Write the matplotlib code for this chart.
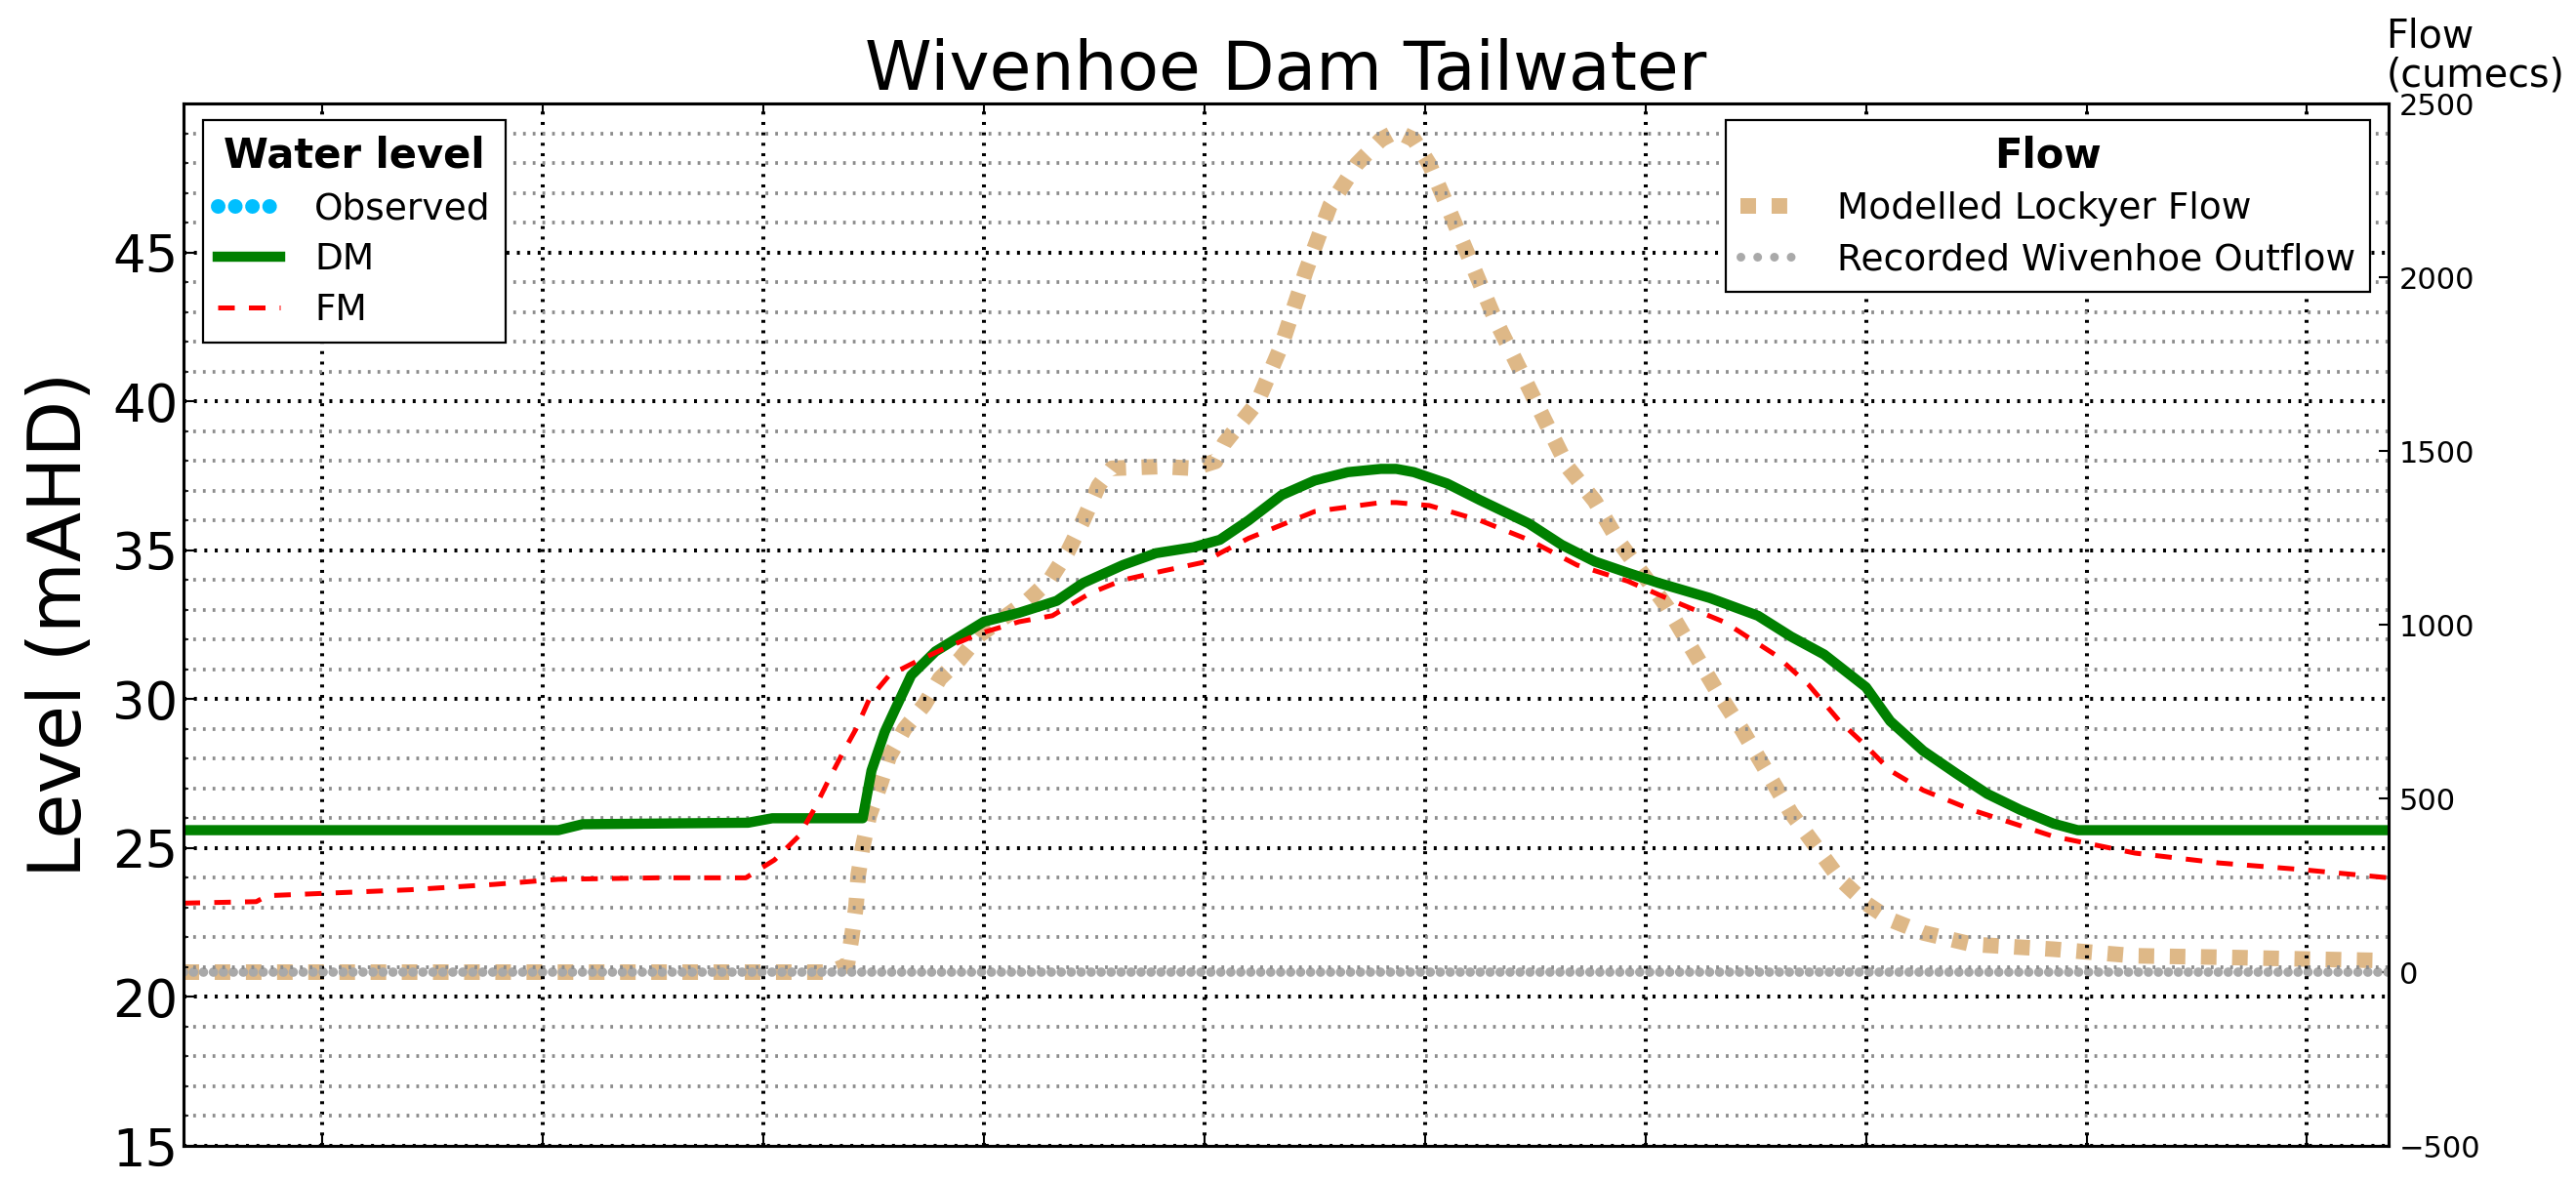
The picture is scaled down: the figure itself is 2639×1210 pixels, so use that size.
import matplotlib
matplotlib.use('Agg')
import matplotlib.pyplot as plt
from matplotlib.lines import Line2D
from matplotlib.ticker import MultipleLocator

# ---------------- data (x in days relative to first major tick) ----------------
x_range = [-0.63, 9.37]
day_ticks = [0, 1, 2, 3, 4, 5, 6, 7, 8, 9]

days_obs = []
level_obs = []

days_dm = [-0.63, 1.07, 1.18, 1.93, 2.04, 2.43, 2.45, 2.49, 2.55, 2.60, 2.67, 2.78,
           2.89, 3.00, 3.16, 3.33, 3.45, 3.63, 3.78, 3.95, 4.07, 4.20, 4.35, 4.50,
           4.65, 4.80, 4.87, 4.95, 5.10, 5.25, 5.47, 5.62, 5.77, 5.92, 6.06, 6.29,
           6.51, 6.66, 6.81, 7.00, 7.11, 7.26, 7.41, 7.55, 7.70, 7.85, 7.96, 9.37]
level_dm = [25.6, 25.6, 25.8, 25.85, 26.0, 26.0, 26.0, 27.6, 28.9, 29.7, 30.8, 31.6,
            32.1, 32.6, 32.9, 33.3, 33.9, 34.5, 34.9, 35.1, 35.35, 36.0, 36.85, 37.34,
            37.62, 37.73, 37.73, 37.62, 37.24, 36.68, 35.9, 35.18, 34.62, 34.24, 33.9, 33.4,
            32.8, 32.1, 31.5, 30.4, 29.26, 28.26, 27.5, 26.82, 26.28, 25.82, 25.6, 25.6]

days_fm = [-0.63, -0.30, -0.25, 0.40, 0.78, 1.07, 1.52, 1.82, 1.92, 2.05, 2.16, 2.23,
           2.29, 2.36, 2.42, 2.48, 2.57, 2.69, 2.82, 2.98, 3.16, 3.31, 3.48, 3.63,
           3.81, 4.00, 4.07, 4.20, 4.50, 4.80, 4.87, 5.02, 5.25, 5.47, 5.69, 5.92,
           6.14, 6.36, 6.59, 6.74, 6.88, 7.00, 7.11, 7.26, 7.48, 7.85, 8.22, 8.60,
           8.97, 9.37]
level_fm = [23.15, 23.2, 23.4, 23.6, 23.78, 23.95, 24.0, 24.0, 24.0, 24.6, 25.4, 26.3,
            27.2, 28.2, 29.0, 30.0, 30.8, 31.25, 31.7, 32.2, 32.6, 32.8, 33.55, 34.0,
            34.3, 34.6, 34.9, 35.4, 36.3, 36.6, 36.6, 36.5, 36.0, 35.35, 34.5, 33.96,
            33.25, 32.58, 31.48, 30.48, 29.26, 28.43, 27.6, 26.94, 26.28, 25.39, 24.83, 24.5,
            24.28, 24.0]

days_lockyer = [-0.63, 2.30, 2.38, 2.40, 2.42, 2.43, 2.45, 2.48, 2.53, 2.57, 2.64, 2.73,
                2.80, 2.89, 2.98, 3.20, 3.30, 3.38, 3.45, 3.52, 3.58, 3.80, 3.95, 4.05,
                4.09, 4.24, 4.35, 4.46, 4.57, 4.69, 4.80, 4.87, 4.95, 5.02, 5.10, 5.21,
                5.32, 5.43, 5.54, 5.65, 5.77, 5.88, 5.99, 6.10, 6.21, 6.32, 6.44, 6.55,
                6.66, 6.77, 6.88, 7.00, 7.11, 7.26, 7.48, 7.85, 8.22, 8.60, 8.97, 9.37]
flow_lockyer = [0, 0, 20, 100, 190, 280, 360, 450, 540, 620, 700, 770,
                845, 900, 970, 1070, 1130, 1210, 1300, 1400, 1450, 1455, 1450, 1470,
                1522, 1640, 1805, 2018, 2207, 2325, 2396, 2420, 2396, 2325, 2207, 2042,
                1876, 1735, 1592, 1451, 1356, 1238, 1144, 1049, 931, 813, 695, 577,
                458, 364, 269, 198, 151, 113, 80, 66, 47, 43, 38, 33]

days_outflow = [-0.63, 9.37]
flow_outflow = [0, 0]

level_ticks = [15, 20, 25, 30, 35, 40, 45]
flow_ticks = [-500, 0, 500, 1000, 1500, 2000, 2500]

# ---------------- figure ----------------
W, H = 2639, 1210
fig = plt.figure(figsize=(W / 100, H / 100), dpi=100)
ax = fig.add_axes([188 / W, 1 - 1174 / H, (2447 - 188) / W, (1174 - 106) / H])
ax2 = ax.twinx()
ax.set_zorder(ax2.get_zorder() + 1)
ax.patch.set_visible(False)

l_obs, = ax.plot(days_obs, level_obs, color='#00BFFF', lw=10.8,
                 linestyle=(0, (0.001, 1.17)), dash_capstyle='round', label='Observed')
l_dm, = ax.plot(days_dm, level_dm, color='green', lw=7.5, label='DM', solid_joinstyle='round')
l_fm, = ax.plot(days_fm, level_fm, color='red', lw=3.6, dashes=(3.4, 2.9), label='FM')

l_ly, = ax2.plot(days_lockyer, flow_lockyer, color='#DEB887', lw=11.5, dashes=(1, 1),
                 dash_capstyle='butt', label='Modelled Lockyer Flow')
l_out, = ax2.plot(days_outflow, flow_outflow, color='#A9A9A9', lw=7,
                  linestyle=(0, (0.001, 1.05)), dash_capstyle='round')
out_proxy = Line2D([], [], color='#A9A9A9', lw=6.5, linestyle=(0, (0.001, 1.9)),
                   dash_capstyle='round', label='Recorded Wivenhoe Outflow')

ax.set_xlim(*x_range)
ax.set_ylim(15, 50)
ax2.set_ylim(-500, 2500)
ax.set_xticks(day_ticks)
ax.set_yticks(level_ticks)
ax.yaxis.set_minor_locator(MultipleLocator(1))
ax2.set_yticks(flow_ticks)

ax.tick_params(axis='x', which='major', direction='in', length=8, width=1.5,
               top=True, bottom=True, labelbottom=False)
ax.tick_params(axis='y', which='major', direction='in', length=8.5, width=1.5,
               labelsize=38, pad=4)
ax.tick_params(axis='y', which='minor', direction='in', length=3.5, width=1.2)
ax2.tick_params(axis='y', which='major', direction='in', length=7, width=1.5,
                labelsize=22, pad=8)

for a in (ax, ax2):
    for s in a.spines.values():
        s.set_linewidth(2.2)

ax.grid(which='major', axis='both', color='black', linestyle=(0, (0.75, 1.9)), lw=2.9)
ax.grid(which='minor', axis='y', color='#8c8c8c', linestyle=(0, (0.75, 1.9)), lw=2.7)

ax.set_title('Wivenhoe Dam Tailwater', fontsize=50, pad=6)
ax.set_ylabel('Level (mAHD)', fontsize=54, labelpad=12)
ax2.annotate('Flow\n(cumecs)', xy=(1, 1), xycoords='axes fraction', xytext=(-2, 6),
             textcoords='offset points', ha='left', va='bottom', fontsize=28.5,
             linespacing=1.0)

leg_kw = dict(fontsize=27, title_fontsize=30, fancybox=False, framealpha=1,
              edgecolor='black', borderaxespad=0, handlelength=1.7,
              handletextpad=0.95, labelspacing=0.43, borderpad=0.4)
leg1 = ax.legend(handles=[l_obs, l_dm, l_fm], title='Water level', loc='upper left',
                 bbox_to_anchor=(20 / 2259, 1 - 17 / 1068), **leg_kw)
leg1.get_title().set_fontweight('bold')
leg1.get_frame().set_linewidth(1.6)
ax.add_artist(leg1)
leg2 = ax.legend(handles=[l_ly, out_proxy], title='Flow', loc='upper right',
                 bbox_to_anchor=(1 - 19 / 2259, 1 - 17 / 1068), **leg_kw)
leg2.get_title().set_fontweight('bold')
leg2.get_frame().set_linewidth(1.6)

fig.savefig('out.png', dpi=100)
